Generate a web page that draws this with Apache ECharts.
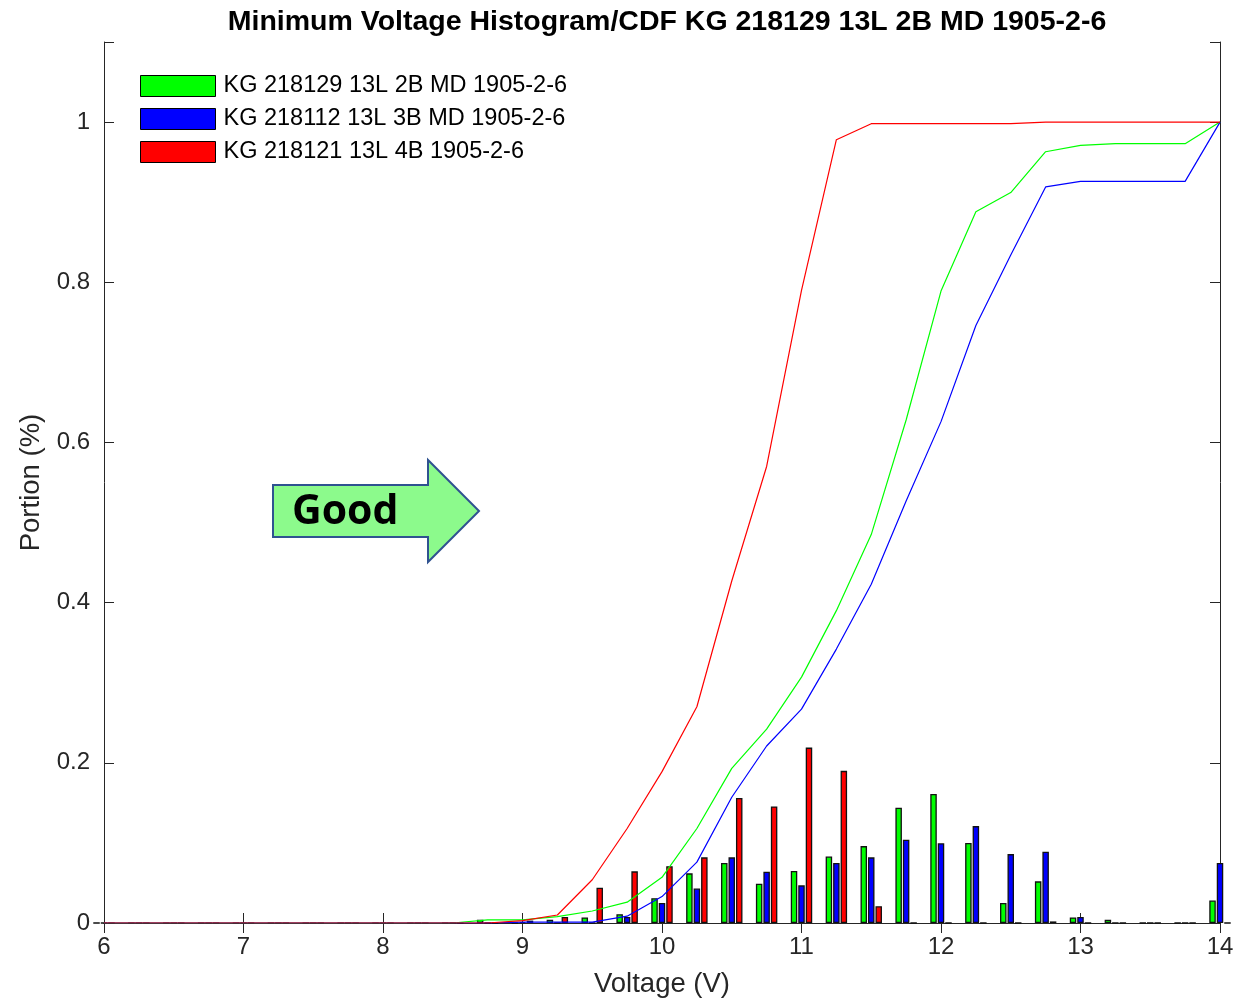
<!DOCTYPE html>
<html>
<head>
<meta charset="utf-8">
<script src="https://cdn.jsdelivr.net/npm/echarts@6/dist/echarts.min.js"></script>
<style>
html,body{margin:0;padding:0;background:#fff;overflow:hidden;}
#chart{width:1245px;height:1001px;}
</style>
</head>
<body>
<div id="chart"></div>
<script>
// Bin centers (V)
const bins = [6, 6.25, 6.5, 6.75, 7, 7.25, 7.5, 7.75, 8, 8.25, 8.5, 8.75, 9, 9.25, 9.5, 9.75,
              10, 10.25, 10.5, 10.75, 11, 11.25, 11.5, 11.75, 12, 12.25, 12.5, 12.75, 13, 13.25, 13.5, 13.75, 14];

const seriesNames = ['KG 218129 13L 2B MD 1905-2-6', 'KG 218112 13L 3B MD 1905-2-6', 'KG 218121 13L 4B 1905-2-6'];

// Histogram (portion per bin)
const histGreen = [0,0,0,0,0,0,0,0,0,0,0, 0.004, 0, 0.004, 0.007, 0.011,
                   0.031, 0.062, 0.075, 0.049, 0.065, 0.083, 0.096, 0.144, 0.161, 0.100, 0.025, 0.052, 0.007, 0.004, 0, 0, 0.028];
const histBlue  = [0,0,0,0,0,0,0,0,0,0,0, 0, 0.001, 0, 0, 0.0075,
                   0.025, 0.043, 0.082, 0.064, 0.047, 0.075, 0.082, 0.104, 0.0995, 0.121, 0.086, 0.089, 0.0075, 0, 0, 0, 0.075];
const histRed   = [0,0,0,0,0,0,0,0,0,0,0, 0, 0.003, 0.0075, 0.044, 0.0645,
                   0.071, 0.082, 0.156, 0.1456, 0.219, 0.190, 0.021, 0, 0, 0, 0, 0.002, 0, 0, 0, 0, 0];

// CDF curves
const cdfGreen = [0,0,0,0,0,0,0,0,0,0,0, 0.004, 0.004, 0.008, 0.015, 0.026,
                  0.057, 0.118, 0.193, 0.242, 0.307, 0.390, 0.485, 0.628, 0.789, 0.888, 0.912, 0.963, 0.971, 0.973, 0.973, 0.973, 1.0];
const cdfBlue  = [0,0,0,0,0,0,0,0,0,0,0, 0, 0.001, 0.001, 0.001, 0.0085,
                  0.033, 0.076, 0.157, 0.221, 0.267, 0.342, 0.423, 0.527, 0.626, 0.746, 0.834, 0.919, 0.926, 0.926, 0.926, 0.926, 1.0];
const cdfRed   = [0,0,0,0,0,0,0,0,0,0,0, 0, 0.003, 0.010, 0.054, 0.118,
                  0.189, 0.270, 0.427, 0.570, 0.790, 0.978, 0.998, 0.998, 0.998, 0.998, 0.998, 1.0, 1.0, 1.0, 1.0, 1.0, 1.0];

const xTicks = [6, 7, 8, 9, 10, 11, 12, 13, 14];
const yTicks = [0, 0.2, 0.4, 0.6, 0.8, 1];

const colors = ['#00ff00', '#0000ff', '#ff0000'];
const hists = [histGreen, histBlue, histRed];
const cdfs = [cdfGreen, cdfBlue, cdfRed];

const FONT = '"Liberation Sans", Arial, Helvetica, sans-serif';
const AX = '#262626';

const chart = echarts.init(document.getElementById('chart'), null, {renderer: 'canvas'});

const series = [];
hists.forEach((h, k) => {
  series.push({
    name: seriesNames[k],
    type: 'bar',
    barWidth: 6.5,
    barGap: '15%',
    itemStyle: {color: colors[k], borderColor: '#111', borderWidth: 1.3},
    data: bins.map((x, i) => [x, h[i]]),
    z: 2,
    animation: false
  });
});
cdfs.forEach((c, k) => {
  series.push({
    name: seriesNames[k],
    type: 'line',
    symbol: 'none',
    lineStyle: {color: colors[k], width: 1.2},
    itemStyle: {color: colors[k]},
    data: bins.map((x, i) => [x, c[i]]),
    z: 3,
    animation: false
  });
});

const xFmt = v => (xTicks.indexOf(v) >= 0 ? String(v) : '');
const yFmt = v => {
  const m = yTicks.find(t => Math.abs(t - v) < 1e-6);
  return m === undefined ? '' : String(m);
};

const option = {
  backgroundColor: '#fff',
  animation: false,
  title: {
    text: 'Minimum Voltage Histogram/CDF KG 218129 13L 2B MD 1905-2-6',
    left: 662, top: 3, textAlign: 'center',
    textStyle: {fontFamily: FONT, fontWeight: 'bold', fontSize: 28.5, color: '#000'}
  },
  legend: {
    orient: 'vertical', left: 140, top: 74, padding: 0,
    itemWidth: 75, itemHeight: 21, itemGap: 9,
    icon: 'rect',
    data: seriesNames,
    itemStyle: {borderColor: '#000', borderWidth: 1},
    textStyle: {fontFamily: FONT, fontSize: 23.5, lineHeight: 21, color: '#000', padding: [0, 0, 0, 3]},
    selectedMode: false
  },
  grid: {left: 104, right: 25, top: 42, bottom: 78, containLabel: false, outerBoundsMode: 'none'},
  xAxis: [{
    type: 'value', min: 6, max: 14, interval: 1,
    name: 'Voltage (V)', nameLocation: 'middle', nameGap: 47,
    nameTextStyle: {fontFamily: FONT, fontSize: 27.5, color: AX},
    axisLine: {show: true, lineStyle: {color: AX, width: 1}},
    axisTick: {show: true, inside: true, length: 10, lineStyle: {color: AX}},
    axisLabel: {fontFamily: FONT, fontSize: 24, color: AX, margin: 12, formatter: xFmt},
    splitLine: {show: false}
  }, {
    type: 'value', min: 6, max: 14, interval: 1, position: 'top',
    axisLine: {show: true, lineStyle: {color: AX, width: 1}},
    axisTick: {show: true, inside: true, length: 10, lineStyle: {color: AX}},
    axisLabel: {show: false}, splitLine: {show: false}
  }],
  yAxis: [{
    type: 'value', min: 0, max: 1.1, interval: 0.2,
    name: 'Portion (%)', nameLocation: 'middle', nameGap: 56,
    nameTextStyle: {fontFamily: FONT, fontSize: 27.5, color: AX},
    axisLine: {show: true, lineStyle: {color: AX, width: 1}},
    axisTick: {show: true, inside: true, length: 10, lineStyle: {color: AX}},
    axisLabel: {fontFamily: FONT, fontSize: 24, color: AX, margin: 14, formatter: yFmt},
    splitLine: {show: false}
  }, {
    type: 'value', min: 0, max: 1.1, interval: 0.2, position: 'right',
    axisLine: {show: true, lineStyle: {color: AX, width: 1}},
    axisTick: {show: true, inside: true, length: 10, lineStyle: {color: AX}},
    axisLabel: {show: false}, splitLine: {show: false}
  }],
  series: series,
  graphic: [
    {
      type: 'polygon', z: 10,
      shape: {points: [[273, 485], [428, 485], [428, 460], [479, 511], [428, 562], [428, 537], [273, 537]]},
      style: {fill: '#8cfa8c', stroke: '#2f5290', lineWidth: 2}
    },
    {
      type: 'text', z: 11, left: 292, top: 492,
      style: {text: 'Good', fontFamily: '"Open Sans", Lato, sans-serif', fontWeight: 'bold', fontSize: 41, fill: '#000'}
    }
  ]
};
chart.setOption(option);
</script>
</body>
</html>
